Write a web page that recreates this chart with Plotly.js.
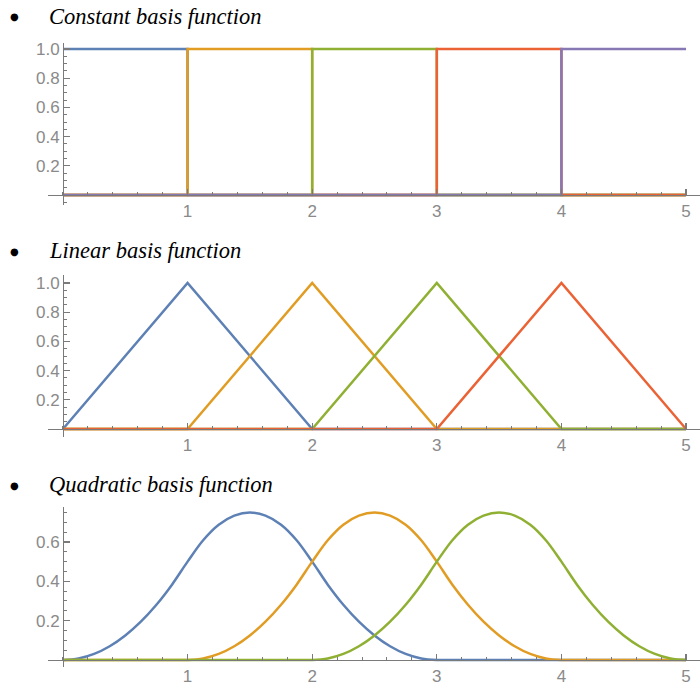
<!DOCTYPE html>
<html>
<head>
<meta charset="utf-8">
<script src="https://cdn.plot.ly/plotly-3.0.1.min.js"></script>
<style>html,body{margin:0;padding:0;background:#fff;}#chart{width:700px;height:691px;}</style>
</head>
<body>
<div id="chart"></div>
<script>
// ---- data ----
const titles = ["Constant basis function", "Linear basis function", "Quadratic basis function"];
const knots = [0, 1, 2, 3, 4, 5];
// constant basis: value on each interval, given at the knot where it starts (step plot)
const constBlue   = [1, 0, 0, 0, 0, 0];
const constOrange = [0, 1, 0, 0, 0, 0];
const constGreen  = [0, 0, 1, 0, 0, 0];
const constRed    = [0, 0, 0, 1, 0, 0];
const constPurple = [0, 0, 0, 0, 1, 1];
// linear basis: values at knots
const linBlue   = [0, 1, 0, 0, 0, 0];
const linOrange = [0, 0, 1, 0, 0, 0];
const linGreen  = [0, 0, 0, 1, 0, 0];
const linRed    = [0, 0, 0, 0, 1, 0];
// quadratic basis: sampled every 0.125
const quadX = [0, 0.125, 0.25, 0.375, 0.5, 0.625, 0.75, 0.875, 1, 1.125, 1.25, 1.375, 1.5, 1.625, 1.75, 1.875,
  2, 2.125, 2.25, 2.375, 2.5, 2.625, 2.75, 2.875, 3, 3.125, 3.25, 3.375, 3.5, 3.625, 3.75, 3.875,
  4, 4.125, 4.25, 4.375, 4.5, 4.625, 4.75, 4.875, 5];
const quadBlue = [0, 0.008, 0.031, 0.070, 0.125, 0.195, 0.281, 0.383, 0.5, 0.609, 0.688, 0.734, 0.75, 0.734, 0.688, 0.609,
  0.5, 0.383, 0.281, 0.195, 0.125, 0.070, 0.031, 0.008, 0, 0, 0, 0, 0, 0, 0, 0,
  0, 0, 0, 0, 0, 0, 0, 0, 0];
const quadOrange = [0, 0, 0, 0, 0, 0, 0, 0, 0, 0.008, 0.031, 0.070, 0.125, 0.195, 0.281, 0.383,
  0.5, 0.609, 0.688, 0.734, 0.75, 0.734, 0.688, 0.609, 0.5, 0.383, 0.281, 0.195, 0.125, 0.070, 0.031, 0.008,
  0, 0, 0, 0, 0, 0, 0, 0, 0];
const quadGreen = [0, 0, 0, 0, 0, 0, 0, 0, 0, 0, 0, 0, 0, 0, 0, 0,
  0, 0.008, 0.031, 0.070, 0.125, 0.195, 0.281, 0.383, 0.5, 0.609, 0.688, 0.734, 0.75, 0.734, 0.688, 0.609,
  0.5, 0.383, 0.281, 0.195, 0.125, 0.070, 0.031, 0.008, 0];
const xTickVals = [1, 2, 3, 4, 5];
const yTickVals12 = [0.2, 0.4, 0.6, 0.8, 1.0];
const yTickText12 = ["0.2", "0.4", "0.6", "0.8", "1.0"];
const yTickVals3 = [0.2, 0.4, 0.6];
const yTickText3 = ["0.2", "0.4", "0.6"];

// ---- styling ----
const colors = ["#5E81B5", "#E19C24", "#8FB032", "#EB6235", "#8778B3"];
const W = 700, H = 691;
const LW = 2.5;

const traces = [];
function add(x, y, c, ax, shape) {
  traces.push({x: x, y: y, mode: "lines", xaxis: ax[0], yaxis: ax[1],
    line: {color: c, width: LW, shape: shape || "linear", smoothing: 1, simplify: false},
    hoverinfo: "skip"});
}
[constBlue, constOrange, constGreen, constRed, constPurple].forEach((v, i) => add(knots, v, colors[i], ["x", "y"], "hv"));
[linBlue, linOrange, linGreen, linRed].forEach((v, i) => add(knots, v, colors[i], ["x2", "y2"]));
[quadBlue, quadOrange, quadGreen].forEach((v, i) => add(quadX, v, colors[i], ["x3", "y3"], "spline"));

const axisColor = "#7a7a7a";
const tickFont = {family: "Liberation Sans, Arial, sans-serif", size: 17, color: "#8a8a8a"};
function xAxis(zeroPx) {
  return {
    domain: [48 / W, 1], range: [-0.12, 5.112], anchor: "free", position: 1 - zeroPx / H,
    showline: true, linecolor: axisColor, linewidth: 1.3, showgrid: false, zeroline: false,
    tickmode: "array", tickvals: xTickVals, ticks: "inside", ticklen: 6, tickwidth: 1.2, tickcolor: axisColor,
    minor: {dtick: 0.2, tick0: 0, ticks: "inside", ticklen: 3, tickcolor: axisColor, tickwidth: 1},
    tickfont: tickFont, fixedrange: true
  };
}
function yAxis(topPx, botPx, zeroPx, unitPx, tv, tt) {
  return {
    domain: [1 - botPx / H, 1 - topPx / H],
    range: [-(botPx - zeroPx) / unitPx, (zeroPx - topPx) / unitPx],
    anchor: "free", position: 63 / W,
    showline: true, linecolor: axisColor, linewidth: 1.3, showgrid: false, zeroline: false,
    tickmode: "array", tickvals: tv, ticktext: tt, ticks: "inside", ticklen: 6, tickwidth: 1.2, tickcolor: axisColor,
    minor: {dtick: 0.05, tick0: 0, ticks: "inside", ticklen: 3, tickcolor: axisColor, tickwidth: 1},
    tickfont: tickFont, fixedrange: true
  };
}

const titleY = [16, 250, 484];
const annotations = [];
titles.forEach((t, i) => {
  annotations.push({xref: "paper", yref: "paper", x: 14 / W, y: 1 - (titleY[i] + 1) / H, xanchor: "center", yanchor: "middle",
    text: "●", showarrow: false, font: {family: "DejaVu Sans, sans-serif", size: 10, color: "#000"}});
  annotations.push({xref: "paper", yref: "paper", x: 47 / W, y: 1 - titleY[i] / H, xanchor: "left", yanchor: "middle",
    text: "<i>" + t + "</i>", showarrow: false, font: {family: "Liberation Serif, Times New Roman, serif", size: 22.5, color: "#000"}});
});

const layout = {
  width: W, height: H, margin: {l: 0, r: 0, t: 0, b: 0, autoexpand: false},
  paper_bgcolor: "#fff", plot_bgcolor: "#fff", showlegend: false,
  xaxis: xAxis(195), yaxis: yAxis(43, 205, 195, 146, yTickVals12, yTickText12),
  xaxis2: xAxis(429), yaxis2: yAxis(275, 437, 429, 146, yTickVals12, yTickText12),
  xaxis3: xAxis(660), yaxis3: yAxis(507, 667, 660, 196.7, yTickVals3, yTickText3),
  annotations: annotations
};
Plotly.newPlot("chart", traces, layout, {staticPlot: true, displayModeBar: false});
</script>
</body>
</html>
